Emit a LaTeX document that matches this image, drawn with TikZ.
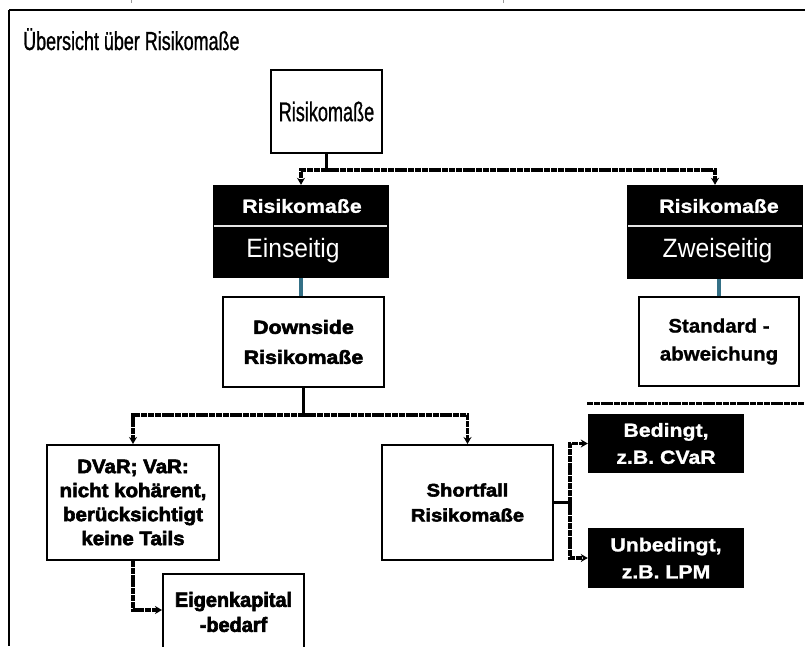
\documentclass[tikz,border=0pt]{standalone}
\usepackage{fontspec}
\setmainfont{Liberation Sans}
\newfontfamily\fcond{Liberation Sans}[FakeStretch=0.67, FakeBold=0.8]
\newfontfamily\ftitle{Liberation Sans}[FakeStretch=0.69, FakeBold=1.0]
\newfontfamily\fmid{Liberation Sans}[FakeStretch=0.93]
\newfontfamily\fwa{Liberation Sans}[UprightFont=*/B, FakeStretch=1.12, FakeBold=1.2]
\newfontfamily\fwb{Liberation Sans}[UprightFont=*/B, FakeStretch=1.05, FakeBold=1.2]
\newfontfamily\fha{Liberation Sans}[UprightFont=*/B, FakeStretch=1.12, FakeBold=3]
\newfontfamily\fhb{Liberation Sans}[UprightFont=*/B, FakeStretch=1.05, FakeBold=3]
\newfontfamily\fhc{Liberation Sans}[UprightFont=*/B, FakeStretch=0.97, FakeBold=3]
\usetikzlibrary{arrows.meta,calc}
\definecolor{tealc}{RGB}{52,112,134}
\begin{document}
\begin{tikzpicture}[x=1pt,y=-1pt,
  box/.style={draw=black,line width=2pt,fill=white,inner sep=0pt,align=center},
  blk/.style={fill=black,inner sep=0pt,text=white,align=center},
  wtxt/.style={text=white,inner sep=0pt,align=center},
  dl/.style={line width=3.5pt,draw=black,dash pattern=on 6pt off 0.8pt},
  solidl/.style={line width=3pt,draw=black},
  tip/.style={-{Stealth[length=7pt,width=8pt]}},
  tl/.style={line width=3.5pt,draw=tealc}]
\useasboundingbox (0,0) rectangle (805,646);
\clip (0,0) rectangle (805,646);
\fill[white] (0,0) rectangle (805,646);
% frame
\draw[line width=1.8pt] (9,10) -- (805,10);
\draw[line width=2.5pt] (9,10) -- (9,646);
\draw[black!40,line width=0.6pt] (131,0) -- (131,3);
\draw[black!40,line width=0.6pt] (503,0) -- (503,3);
% title
\node[anchor=base west,inner sep=0pt,font=\ftitle\fontsize{26}{28}\selectfont] (title) at (23,50) {Übersicht über Risikomaße};
% top
\node[box,minimum width=111pt,minimum height=83pt,font=\fcond\fontsize{27}{30}\selectfont] (top) at (326.5,111.5) {Risikomaße};
% Einseitig
\node[blk,minimum width=176pt,minimum height=93pt] (eins) at (301,231.5) {};
\node[wtxt,font=\fwa\fontsize{19}{22}\selectfont] (einsH) at (302,206) {Risikomaße};
\node[wtxt,font=\fmid\fontsize{26.5}{30}\selectfont] (einsT) at (293,251) {Einseitig};
\draw[black!10,line width=1.2pt] (214,226) -- (387,226);
% Zweiseitig
\node[blk,minimum width=176pt,minimum height=94pt] (zwei) at (715,232) {};
\node[wtxt,font=\fwa\fontsize{19}{22}\selectfont] (zweiH) at (719,206) {Risikomaße};
\node[wtxt,font=\fmid\fontsize{26.5}{30}\selectfont] (zweiT) at (717.5,251) {Zweiseitig};
\draw[black!10,line width=1.2pt] (628,226) -- (802,226);
% second level
\node[box,minimum width=161pt,minimum height=90pt,font=\fha\fontsize{19}{30}\selectfont] (down) at (303.5,342) {Downside\\Risikomaße};
\node[box,minimum width=160pt,minimum height=89pt,font=\fwb\fontsize{19.5}{28}\selectfont] (std) at (719,341.5) {Standard -\\abweichung};
% third level
\node[box,minimum width=172pt,minimum height=115pt,font=\fhb\fontsize{19.5}{24}\selectfont] (dvar) at (133,502.5) {DVaR; VaR:\\nicht kohärent,\\berücksichtigt\\keine Tails};
\node[box,minimum width=171pt,minimum height=115pt,font=\fha\fontsize{18}{25}\selectfont] (short) at (467.5,502.5) {Shortfall\\Risikomaße};
\node[blk,minimum width=156pt,minimum height=59pt,font=\fwa\fontsize{19}{27}\selectfont] (bed) at (666,443.5) {Bedingt,\\z.B. CVaR};
\node[blk,minimum width=156pt,minimum height=60pt,font=\fwa\fontsize{19}{27}\selectfont] (unbed) at (666,558) {Unbedingt,\\z.B. LPM};
\node[box,minimum width=141pt,minimum height=76pt,font=\fhc\fontsize{20.5}{25}\selectfont] (eigen) at (233.5,612) {Eigenkapital\\-bedarf};
% dashed separator at right
\draw[dl,line width=3pt] (587,403) -- (805,403);
% connectors
\coordinate (j1) at (326.5,170);
\draw[solidl] (top.south) -- (j1);
\draw[dl,tip] (j1) -| (eins.north);
\draw[dl,tip] (j1) -| (zwei.north);
\draw[tl] (eins.south) -- (eins.south |- down.north);
\draw[tl] (std.north |- zwei.south) -- (std.north);
\coordinate (j2) at (303.5,415);
\draw[solidl] (down.south) -- (j2);
\draw[dl,tip] (j2) -| (dvar.north);
\draw[dl,tip] (j2) -| (short.north);
\coordinate (j3) at (570,502.5);
\draw[solidl] (short.east) -- (j3);
\draw[dl,tip] (j3) |- (bed.west);
\draw[dl,tip] (j3) |- (unbed.west);
\draw[dl,tip] (dvar.south) |- ([yshift=2pt]eigen.west);
\end{tikzpicture}
\end{document}
